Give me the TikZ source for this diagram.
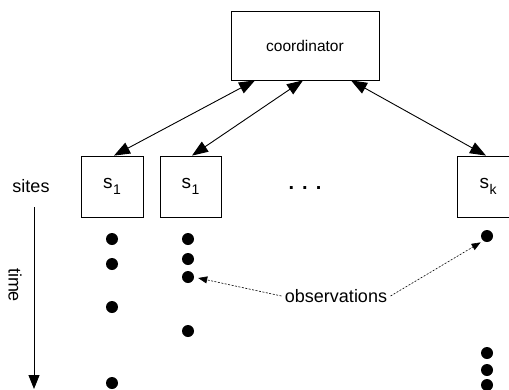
\documentclass[tikz,border=0pt]{standalone}
\usepackage{fontspec}
\setmainfont{Liberation Sans}
\usetikzlibrary{arrows.meta,calc}
\begin{document}
\begin{tikzpicture}[x=1pt,y=-1pt,
  box/.style={draw,line width=0.8pt,inner sep=0pt},
  sitebox/.style={box,minimum width=62pt,minimum height=61pt,font=\fontsize{19}{19}\selectfont},
  link/.style={line width=0.9pt,{Triangle[length=16pt,width=12pt]}-{Triangle[length=16pt,width=12pt]}},
  obs/.style={line width=0.6pt,dash pattern=on 2pt off 1.5pt,-{Triangle[length=9pt,width=7pt]}},
  dot/.style={circle,fill,inner sep=0pt,minimum size=12pt},
  lbl/.style={font=\fontsize{18}{18}\selectfont}]
\useasboundingbox (0,0) rectangle (509,389);
\newcommand{\sitelabel}[1]{s\kern0.5pt\raisebox{-6.5pt}{\fontsize{14}{14}\selectfont #1}}

% coordinator and sites
\node[box,minimum width=148pt,minimum height=69pt,font=\fontsize{15.5}{15.5}\selectfont] (coord) at (305,45.5) {coordinator};
\node[sitebox] (s1) at (112,186.5) {\sitelabel{1}};
\node[sitebox,minimum width=61pt] (s2) at (190.5,186.5) {\sitelabel{1}};
\node[sitebox] (sk) at (488,186.5) {\sitelabel{k}};
\node[font=\fontsize{20}{20}\bfseries] (dots) at (305,188) {.\hspace{8pt}.\hspace{8pt}.};
\node[lbl] (sites) at (31,186) {sites};

% communication links
\draw[link] ($(coord.south)+(-50,0)$) -- ($(s1.north)+(2,0)$);
\draw[link] ($(coord.south)+(-2,0)$) -- ($(s2.north)+(1.5,0)$);
\draw[link] ($(coord.south)+(46,0)$) -- ($(sk.north)+(-2,0)$);

% time axis
\coordinate (tstart) at (34,207);
\coordinate (tend) at (34,389);
\draw[line width=0.9pt,-{Triangle[length=14pt,width=11pt]}] (tstart) -- (tend);
\node[lbl,rotate=-90] (time) at (15,285) {time};

% observations at each site
\foreach \y [count=\i] in {239,264,307,383} \node[dot] (a\i) at (112,\y) {};
\foreach \y [count=\i] in {239,259,277,331} \node[dot] (b\i) at (188,\y) {};
\foreach \y [count=\i] in {236,353,370,385} \node[dot] (c\i) at (487,\y) {};

\node[lbl] (obslabel) at (336,296) {observations};
\draw[obs] (obslabel.west) -- ($(b3.east)+(4,1)$);
\draw[obs] (obslabel.east) -- ($(c1.south west)+(-2,2)$);
\end{tikzpicture}
\end{document}
